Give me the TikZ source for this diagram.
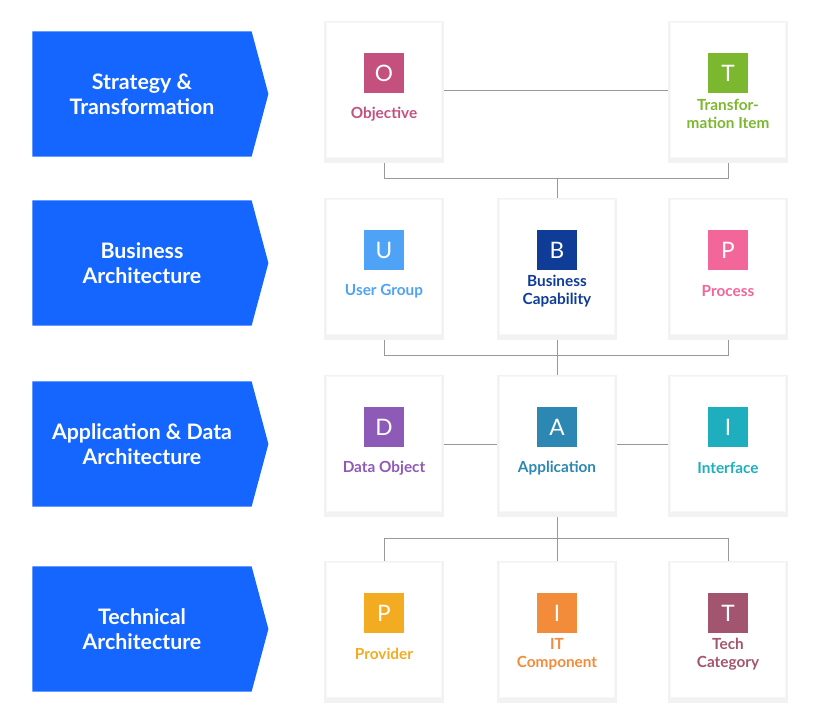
\documentclass[tikz,border=0pt]{standalone}
\usepackage{fontspec}
\setmainfont{Lato}
\usetikzlibrary{positioning,shadows,shapes.symbols}
\definecolor{banblue}{HTML}{1466FF}
\definecolor{cO}{HTML}{C4507E}
\definecolor{cT}{HTML}{7CB82F}
\definecolor{cU}{HTML}{4FA3F7}
\definecolor{cB}{HTML}{0F3C97}
\definecolor{cP}{HTML}{F2669A}
\definecolor{cD}{HTML}{8E5AB8}
\definecolor{cA}{HTML}{2D87B3}
\definecolor{cI}{HTML}{1EAEBE}
\definecolor{cPr}{HTML}{F3AC22}
\definecolor{cIT}{HTML}{F38C3A}
\definecolor{cTC}{HTML}{A3556F}
\tikzset{
	banner/.style={signal, signal to=east, signal pointer angle=150, fill=banblue, text=white,
		font=\bfseries\fontsize{16}{19}\selectfont, align=center, minimum width=177pt, minimum height=94pt, inner sep=0pt},
	card/.style={fill=white, draw=black!3, line width=0.8pt, minimum width=86pt, minimum height=101pt, inner sep=0pt,
		general shadow={fill=black!5, shadow scale=1.05, shadow yshift=-1.5pt}},
	icon/.style={fill=#1, text=white, minimum size=30pt, inner sep=0pt, font=\fontsize{17}{19}\selectfont},
	lbl/.style={text=#1, font=\bfseries\fontsize{11.5}{13.5}\selectfont, align=center},
	link/.style={draw=gray!80, line width=0.6pt},
}
\newcommand{\elem}[6]{% name, x, y, colour, letter, label
	\node[card] (#1) at (#2,#3) {};
	\node[icon=#4] (#1i) at (#2,#3-17) {#5};
	\node[lbl=#4] (#1l) at (#2,#3+24) {#6};
}
\begin{document}
\begin{tikzpicture}[x=0.75pt,y=-0.75pt]
	\useasboundingbox (0,0) rectangle (826,728);

	% layers
	\node[banner] (strat) at (142,94) {Strategy \&\\Transformation};
	\node[banner] (bus) at (142,263) {Business\\Architecture};
	\node[banner] (app) at (142,444) {Application \& Data\\Architecture};
	\node[banner] (tech) at (142,629) {Technical\\Architecture};

	% connectors
	\draw[link] (384,90) -- (728,90);
	\draw[link] (384,157) |- (728,178) -- (728,157);
	\draw[link] (557,178) -- (557,199);
	\draw[link] (384,334) |- (728,355) -- (728,334);
	\draw[link] (557,334) -- (557,377);
	\draw[link] (384,444) -- (728,444);
	\draw[link] (557,512) -- (557,538);
	\draw[link] (384,563) |- (728,538) -- (728,563);
	\draw[link] (557,538) -- (557,563);

	% elements
	\elem{obj}{384}{90}{cO}{O}{Objective}
	\elem{trf}{728}{90}{cT}{T}{Transfor-\\mation Item}
	\elem{ug}{384}{267}{cU}{U}{User Group}
	\elem{bc}{557}{267}{cB}{B}{Business\\Capability}
	\elem{pr}{728}{267}{cP}{P}{Process}
	\elem{dob}{384}{444}{cD}{D}{Data Object}
	\elem{ap}{557}{444}{cA}{A}{Application}
	\elem{itf}{728}{444}{cI}{I}{Interface}
	\elem{prv}{384}{630}{cPr}{P}{Provider}
	\elem{itc}{557}{630}{cIT}{I}{IT\\Component}
	\elem{tc}{728}{630}{cTC}{T}{Tech\\Category}
\end{tikzpicture}
\end{document}
